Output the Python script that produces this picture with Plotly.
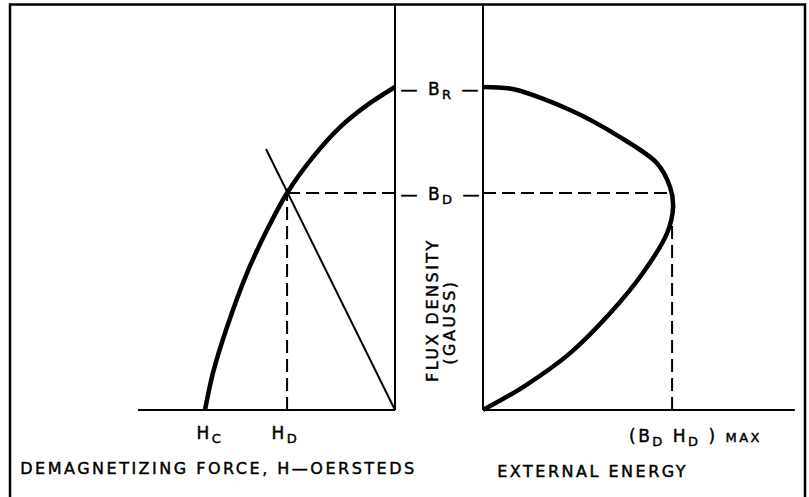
import plotly.graph_objects as go

# ---- data (normalised units: H in units of H_C, B in units of B_R) ----
# Demagnetization curve (second quadrant)
demag_H = [-1.0, -0.958, -0.884, -0.779, -0.674, -0.568, -0.432, -0.289, -0.147, 0.0]
demag_B = [0.0, 0.115, 0.257, 0.424, 0.557, 0.672, 0.783, 0.876, 0.944, 1.0]

# External energy curve (B*H product) against flux density
energy_E = [0.0, 0.081, 0.176, 0.257, 0.323, 0.372, 0.384, 0.378, 0.351, 0.277, 0.176, 0.062, 0.0]
energy_B = [0.0, 0.071, 0.176, 0.300, 0.424, 0.548, 0.628, 0.690, 0.765, 0.845, 0.929, 0.993, 1.0]

# Load line through origin and operating point
load_H = [0.0, -0.679]
load_B = [0.0, 0.808]

# Key values
H_C = -1.0
H_D = -0.568
B_R = 1.0
B_D = 0.672
E_MAX = 0.382

# Axis extents
H_MIN = -1.353
E_END = 0.630
B_TOP = 1.257

# Labels
SUB = "<sub><span style='font-size:13px'>{}</span></sub>"
label_HC = "H" + SUB.format("C")
label_HD = "H" + SUB.format("D")
label_BR = "— B" + SUB.format("R") + " —"
label_BD = "— B" + SUB.format("D") + " —"
label_EMAX = ("(B" + SUB.format("D") + " H" + SUB.format("D")
              + " ) <span style='font-size:13px'>MAX</span>")
title_H = "DEMAGNETIZING FORCE, H—OERSTEDS"
title_E = "EXTERNAL ENERGY"
title_B1 = "FLUX DENSITY"
title_B2 = "(GAUSS)"

W, HGT = 809, 497
INK = "#000000"
FONT = "DejaVu Sans"

fig = go.Figure()

def add_line(x, y, axis="x", width=2, dash="solid", shape="linear"):
    fig.add_trace(go.Scatter(
        x=x, y=y, mode="lines", xaxis=axis, yaxis="y",
        line=dict(color=INK, width=width, dash=dash, shape=shape, smoothing=0.85),
        hoverinfo="skip", showlegend=False))

DASH = "13px,6px"
# dashed construction lines
add_line([H_D, 0.0], [B_D, B_D], "x", 2, DASH)
add_line([H_D, H_D], [0.0, B_D], "x", 2, DASH)
add_line([0.0, E_MAX], [B_D, B_D], "x2", 2, DASH)
add_line([E_MAX, E_MAX], [0.0, B_D], "x2", 2, DASH)

# axes
add_line([H_MIN, 0.0], [0.0, 0.0], "x", 2.2)
add_line([0.0, 0.0], [0.0, B_TOP], "x", 2)
add_line([0.0, E_END], [0.0, 0.0], "x2", 2.2)
add_line([0.0, 0.0], [0.0, B_TOP], "x2", 2)

# load line
add_line(load_H, load_B, "x", 2)

# curves
add_line(demag_H, demag_B, "x", 4.5, shape="spline")
add_line(energy_E, energy_B, "x2", 4.5, shape="spline")

# pixel mapping for the ranges (axes span the whole figure)
H_PX0, H_SCALE = 395, 190.0     # H=0 at px 395, 190 px per unit
E_PX0, E_SCALE = 483, 495.0     # E=0 at px 483
B_PY0, B_SCALE = 410, 323.0     # B=0 at py 410

fig.update_layout(
    width=W, height=HGT,
    margin=dict(l=0, r=0, t=0, b=0),
    paper_bgcolor="white", plot_bgcolor="white",
    xaxis=dict(domain=[0, 1], range=[-H_PX0 / H_SCALE, (W - H_PX0) / H_SCALE],
               visible=False, fixedrange=True),
    xaxis2=dict(domain=[0, 1], range=[-E_PX0 / E_SCALE, (W - E_PX0) / E_SCALE],
                overlaying="x", anchor="y", visible=False, fixedrange=True),
    yaxis=dict(domain=[0, 1], range=[-(HGT - B_PY0) / B_SCALE, B_PY0 / B_SCALE],
               visible=False, fixedrange=True),
    font=dict(family=FONT, color=INK, size=16),
    showlegend=False,
)

# frame (open at the bottom edge of the picture)
fig.add_shape(type="rect", xref="paper", yref="paper",
              x0=10 / W, x1=805 / W, y0=-0.05, y1=1 - 4.5 / HGT,
              line=dict(color=INK, width=2.5), fillcolor="rgba(0,0,0,0)")

def ann(text, x, y, xref="x", yref="y", xshift=0, yshift=0, angle=0, size=16):
    fig.add_annotation(text=text, x=x, y=y, xref=xref, yref=yref,
                       xshift=xshift, yshift=yshift, textangle=angle,
                       showarrow=False, xanchor="center", yanchor="middle",
                       font=dict(family=FONT, size=size, color=INK))

ann(label_HC, H_C, 0.0, xshift=5, yshift=-24, size=17)
ann(label_HD, H_D, 0.0, xshift=-2, yshift=-24, size=17)
ann(label_BR, 0.0, B_R, xshift=46, yshift=-3, size=17)
ann(label_BD, 0.0, B_D, xshift=46, yshift=-3, size=17)
ann(label_EMAX, E_MAX, 0.0, "x2", xshift=23, yshift=-27, size=17)
ann(title_H, 218.5 / W, 1 - 468 / HGT, "paper", "paper")
ann(title_E, 592.5 / W, 1 - 471 / HGT, "paper", "paper")
ann(title_B1, 432 / W, 1 - 310 / HGT, "paper", "paper", angle=-90)
ann(title_B2, 449 / W, 1 - 322 / HGT, "paper", "paper", angle=-90)

post = """
document.body.style.margin = '0';
document.body.style.overflow = 'hidden';
var gd = document.getElementById('{plot_id}');
gd.querySelectorAll('.annotation-text').forEach(function(t){
    t.style.letterSpacing = '2.5px';
    t.style.stroke = '#000';
    t.style.strokeWidth = '0.45px';
});
"""

fig.write_html("out.html", config={"displayModeBar": False},
               post_script=post)
